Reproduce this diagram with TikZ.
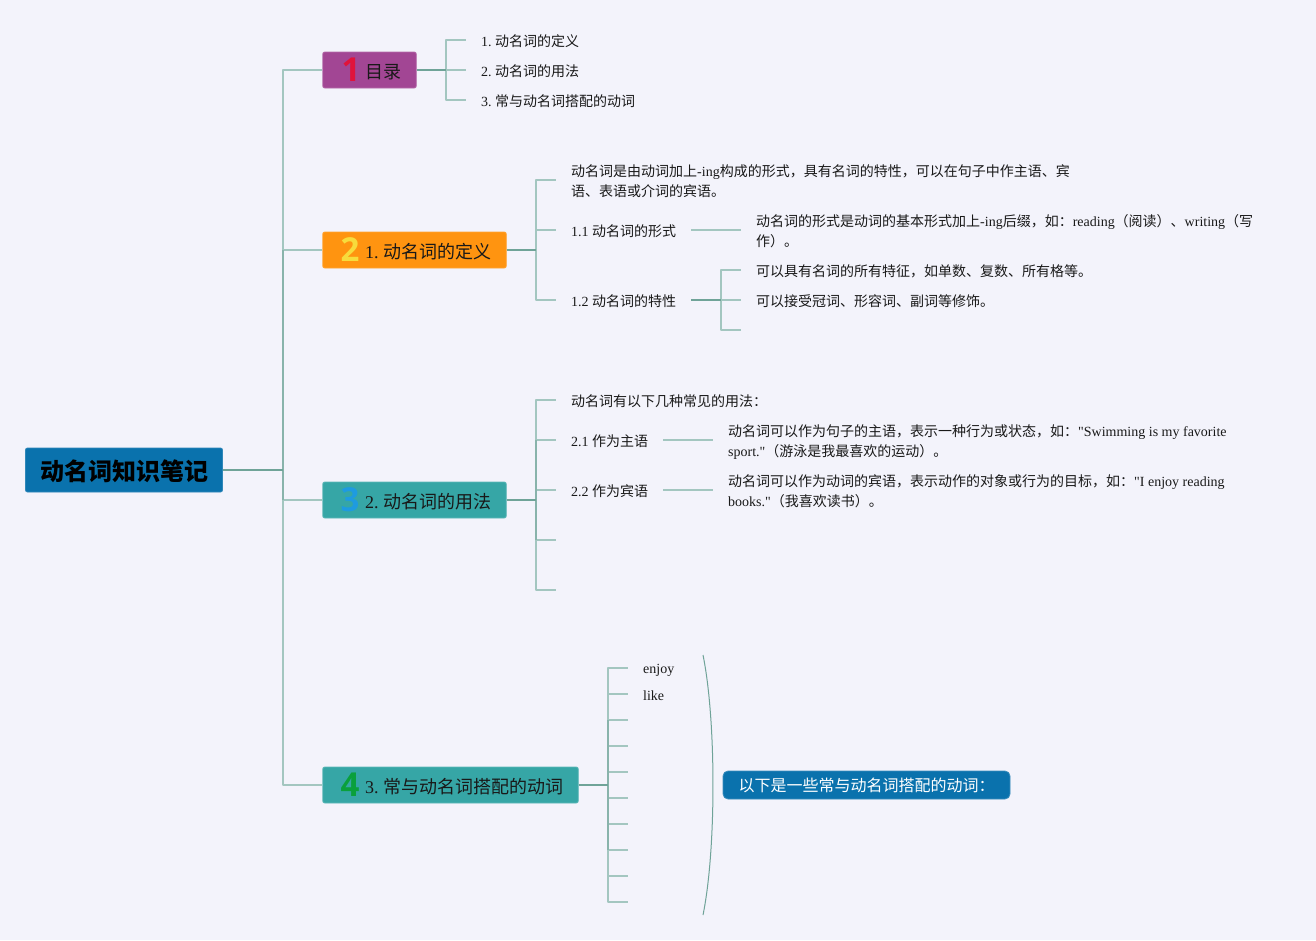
\documentclass[tikz,border=0pt]{standalone}
\usepackage{fontspec}
\setmainfont{Liberation Serif}
\newfontfamily\cjk{Noto Sans CJK SC}
\newfontfamily\digfont{Open Sans}
\newfontfamily\plainfont{Liberation Serif}
\newcommand{\zh}[1]{{\cjk #1}}
\newcommand{\qt}{{\plainfont"}}
\newcommand{\zhstrut}{\vphantom{\zh{动}}}
\frenchspacing
\definecolor{bgc}{HTML}{F3F3FB}
\definecolor{lineL}{HTML}{A3C6C0}
\definecolor{lineD}{HTML}{6FA398}
\definecolor{lineM}{HTML}{88B3AB}
\definecolor{rootc}{HTML}{0A72AD}
\definecolor{purp}{HTML}{A24694}
\definecolor{oran}{HTML}{FF9410}
\definecolor{teal1}{HTML}{36A6A6}
\definecolor{dred}{HTML}{E0143C}
\definecolor{dyel}{HTML}{F7DC3C}
\definecolor{dblu}{HTML}{1E9BE0}
\definecolor{dgrn}{HTML}{0AA03C}
\tikzset{
  x=1pt,y=-1pt,
  txt/.style={anchor=west,inner xsep=15pt,inner ysep=0pt,align=left,text=black!90,font=\fontsize{14}{20}\selectfont},
  conn/.style={draw=lineL,line width=1.3pt,line join=round},
  connd/.style={draw=lineD,line width=1.6pt},
  connm/.style={draw=lineM,line width=1.4pt},
  boxn/.style={rectangle,rounded corners=2pt,inner sep=0pt,line width=.8pt},
  digit/.style={font=\fontsize{33}{33}\digfont\bfseries,inner sep=0pt},
  blabel/.style={anchor=west,inner sep=0pt,text=black!90,font=\fontsize{18}{22}\selectfont},
}
\begin{document}
\begin{tikzpicture}
\fill[bgc] (0,0) rectangle (1316,940);
\useasboundingbox (0,0) rectangle (1316,940);
% root
\node[boxn,fill=rootc,draw=rootc!85!white,minimum width=197pt,minimum height=44pt,font=\fontsize{24}{28}\cjk\bfseries,text=black] (root) at (124,470) {\raisebox{-1.5pt}[\height][\depth]{动名词知识笔记}};
% branches
\node[boxn,fill=purp,draw=purp!80!white,minimum width=93.5pt,minimum height=36pt] (b1) at (369.5,70) {};
\node[boxn,fill=oran,draw=oran!85!white,minimum width=183.5pt,minimum height=36pt] (b2) at (414.5,250) {};
\node[boxn,fill=teal1,draw=teal1!80!white,minimum width=183.5pt,minimum height=36pt] (b3) at (414.5,500) {};
\node[boxn,fill=teal1,draw=teal1!80!white,minimum width=255.5pt,minimum height=36pt] (b4) at (450.5,785) {};
\node[digit,text=dred] (d1) at (351,70) {1};
\node[digit,text=dyel] (d2) at (350,250) {2};
\node[digit,text=dblu] (d3) at (350,500) {3};
\node[digit,text=dgrn] (d4) at (350,785) {4};
\node[blabel] (t1) at (365,72) {\zh{目录}};
\node[blabel] (t2) at (365,252) {1. \zh{动名词的定义}};
\node[blabel] (t3) at (365,502) {2. \zh{动名词的用法}};
\node[blabel] (t4) at (365,787) {3. \zh{常与动名词搭配的动词}};
% junctions
\coordinate (jr) at (283,470);
\coordinate (j1) at (446,70);
\coordinate (j2) at (536,250);
\coordinate (j3) at (536,500);
\coordinate (j4) at (608,785);
\coordinate (j12) at (721,300);
% section 1 leaves
\node[txt] (a1) at (466,41) {1. \zh{动名词的定义}};
\node[txt] (a2) at (466,71) {2. \zh{动名词的用法}};
\node[txt] (a3) at (466,101) {3. \zh{常与动名词搭配的动词}};
% section 2
\node[txt] (c1) at (556,181) {\zh{动名词是由动词加上}-ing\zh{构成的形式，具有名词的特性，可以在句子中作主语、宾}\\\zh{语、表语或介词的宾语。}};
\node[txt] (c2) at (556,231) {1.1 \zh{动名词的形式}};
\node[txt] (c3) at (556,301) {1.2 \zh{动名词的特性}};
\node[txt] (c21) at (741,231) {\zh{动名词的形式是动词的基本形式加上}-ing\zh{后缀，如：}reading\zh{（阅读）、}writing\zh{（写}\\\zh{作）。}};
\node[txt] (c31) at (741,271) {\zh{可以具有名词的所有特征，如单数、复数、所有格等。}};
\node[txt] (c32) at (741,301) {\zh{可以接受冠词、形容词、副词等修饰。}};
\coordinate (c33) at (741,330);
% section 3
\node[txt] (e1) at (556,401) {\zh{动名词有以下几种常见的用法：}};
\node[txt] (e2) at (556,441) {2.1 \zh{作为主语}};
\node[txt] (e3) at (556,491) {2.2 \zh{作为宾语}};
\coordinate (e4) at (556,540);
\coordinate (e5) at (556,590);
\node[txt] (e21) at (713,442) {\zh{动名词可以作为句子的主语，表示一种行为或状态，如：}\qt Swimming is my favorite\\sport.\qt\zh{（游泳是我最喜欢的运动）。}};
\node[txt] (e31) at (713,491) {\zh{动名词可以作为动词的宾语，表示动作的对象或行为的目标，如：}\qt I enjoy reading\\books.\qt\zh{（我喜欢读书）。}};
% section 4
\node[txt] (g1) at (628,669) {\zhstrut enjoy};
\node[txt] (g2) at (628,695) {\zhstrut like};
\coordinate (g3) at (628,720);
\coordinate (g4) at (628,746);
\coordinate (g5) at (628,772);
\coordinate (g6) at (628,798);
\coordinate (g7) at (628,824);
\coordinate (g8) at (628,850);
\coordinate (g9) at (628,876);
\coordinate (g10) at (628,902);
% callout and brace
\node[boxn,rounded corners=5pt,fill=rootc,draw=rootc!80!white,minimum width=287pt,minimum height=28pt,text=white,font=\fontsize{16}{20}\selectfont] (call) at (866.5,785) {\raisebox{-.5pt}[\height][\depth]{\zh{以下是一些常与动名词搭配的动词：}}};
\coordinate (brt) at (703,655);
\coordinate (brb) at (703,915);
\coordinate (brc1) at (716.3,720);
\coordinate (brc2) at (716.3,850);
\draw[draw=lineD,line width=1pt] (brt) .. controls (brc1) and (brc2) .. (brb);
% connectors
\foreach \c in {b1,b2,b3,b4} \draw[conn] (jr) |- (\c);
\draw[connm] (283,250) -- (jr) -- (283,500);
\draw[connd] (root) -- (jr);
\foreach \c in {a1,a2,a3} \draw[conn] (j1) |- ([yshift=1pt]\c.west);
\draw[connd] (b1) -- (j1);
\foreach \c in {c1,c2,c3} \draw[conn] (j2) |- ([yshift=1pt]\c.west);
\draw[connd] (b2) -- (j2);
\draw[conn] ([yshift=1pt]c2.east) -- ([yshift=1pt]c2.east -| c21.west);
\foreach \c in {c31,c32} \draw[conn] (j12) |- ([yshift=1pt]\c.west);
\draw[conn] (j12) |- (c33);
\draw[connd] ([yshift=1pt]c3.east) -- (j12);
\foreach \c in {e1,e2,e3} \draw[conn] (j3) |- ([yshift=1pt]\c.west);
\foreach \c in {e4,e5} \draw[conn] (j3) |- (\c);
\draw[connm] (j3) -- (536,440);
\draw[connm] (j3) -- (536,540);
\draw[connd] (b3) -- (j3);
\draw[conn] ([yshift=1pt]e2.east) -- ([yshift=1pt]e2.east -| e21.west);
\draw[conn] ([yshift=1pt]e3.east) -- ([yshift=1pt]e3.east -| e31.west);
\foreach \c in {g1,g2} \draw[conn] (j4) |- ([yshift=1pt]\c.west);
\foreach \c in {g3,g4,g5,g6,g7,g8,g9,g10} \draw[conn] (j4) |- (\c);
\draw[connm] (608,720) -- (j4) -- (608,850);
\draw[connd] (b4) -- (j4);
\end{tikzpicture}
\end{document}
